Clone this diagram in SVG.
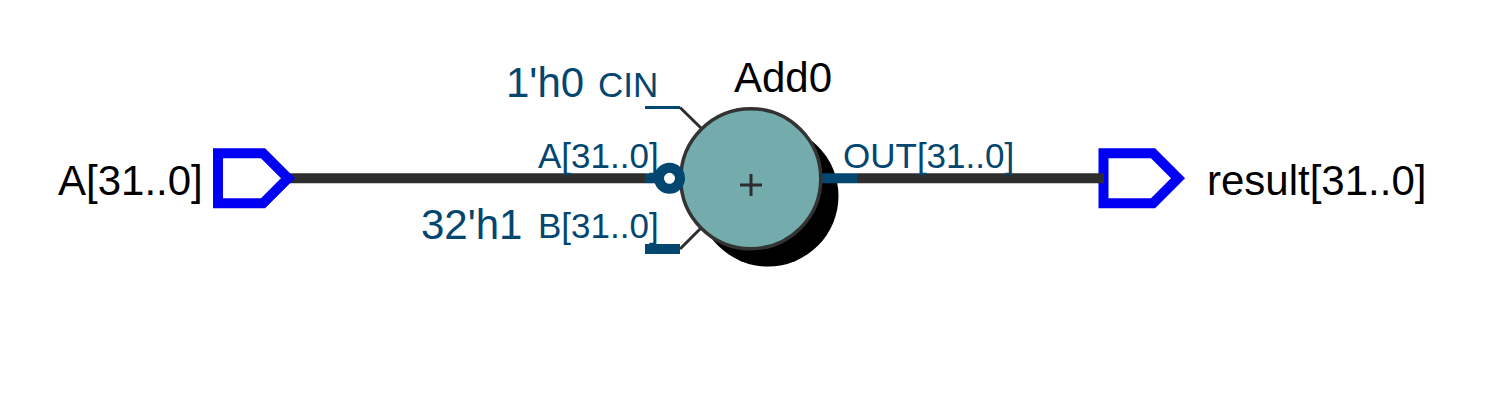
<svg xmlns="http://www.w3.org/2000/svg" width="1487" height="404" viewBox="0 0 1487 404">
<style>
text{font-family:"Liberation Sans",Arial,sans-serif}
.big{font-size:42px}
.small{font-size:35px}
.k{fill:#000}
.b{fill:#03466f}
.pin{fill:#fff;stroke:#0000f5;stroke-width:10}
.wd{stroke:#2d2d2d;fill:none}
.wb{stroke:#03466f;fill:none}
</style>
<rect width="1487" height="404" fill="#fff"/>
<g id="Add0-shadow">
<circle cx="768" cy="196" r="70.500" fill="#000"/>
</g>
<g id="connectors">
<path class="wd" stroke-width="10" d="M288 178.300H645"/>
<path class="wb" stroke-width="10" d="M645 178.300H660"/>
<path class="wd" stroke-width="10" d="M857 178.300H1104"/>
<path class="wb" stroke-width="10" d="M822 178.300H857"/>
<path class="wb" stroke-width="3" d="M645 107.500H680"/>
<path class="wd" stroke-width="3" d="M680 107.500L701 128"/>
<path class="wb" stroke-width="10" d="M645 249H680"/>
<path class="wd" stroke-width="3" d="M680 249L701 228"/>
</g>
<g id="input-A">
<path class="pin" d="M218 153.300H263L288 178.300L263 203.300H218Z"/>
<text class="big k" x="58" y="195">A[31..0]</text>
</g>
<g id="output-result">
<path class="pin" d="M1103.500 153.300H1153L1178 178.300L1153 203.300H1103.500Z"/>
<path class="wd" stroke-width="10" d="M1098 178.300H1104"/>
<text class="big k" x="1207" y="195">result[31..0]</text>
</g>
<g id="Add0">
<circle cx="750.800" cy="178.700" r="70" fill="#74abad" stroke="#333" stroke-width="3.500"/>
<path class="wd" stroke-width="3" d="M740 185H762M751 174V196"/>
<circle cx="669.500" cy="178.300" r="10.500" fill="#fff" stroke="#03466f" stroke-width="10"/>
<text class="big k" x="734" y="92">Add0</text>
<text class="big b" x="506" y="97">1'h0</text>
<text class="big b" x="421" y="239">32'h1</text>
<text class="small b" x="598" y="97">CIN</text>
<text class="small b" x="538" y="168">A[31..0]</text>
<text class="small b" x="538" y="238">B[31..0]</text>
<text class="small b" x="843" y="168">OUT[31..0]</text>
</g>
</svg>
